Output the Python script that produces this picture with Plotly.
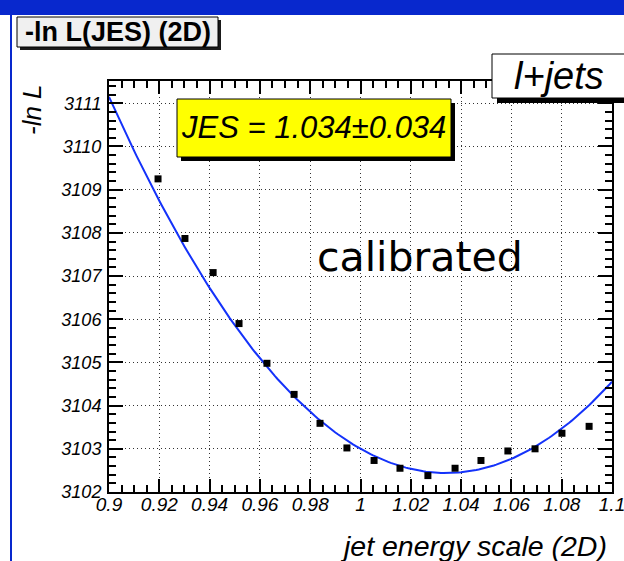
import numpy as np
import plotly.graph_objects as go

# Scan points: -ln L versus jet energy scale
jes_points = [0.9195, 0.9302, 0.9414, 0.9517, 0.9628, 0.9736, 0.9839, 0.9946,
              1.0054, 1.0157, 1.0268, 1.0376, 1.0479, 1.0586, 1.0694, 1.0801, 1.0909]
nll_points = [3109.25, 3107.87, 3107.08, 3105.90, 3104.98, 3104.26, 3103.59, 3103.02,
              3102.73, 3102.55, 3102.38, 3102.55, 3102.73, 3102.95, 3103.00, 3103.36, 3103.52]

# Parabolic fit result
fit_center = 1.034
fit_error = 0.034
fit_minimum = 3102.44
fit_curvature = 485.0

x_ticks = [0.9, 0.92, 0.94, 0.96, 0.98, 1.0, 1.02, 1.04, 1.06, 1.08, 1.1]
y_ticks = [3102, 3103, 3104, 3105, 3106, 3107, 3108, 3109, 3110, 3111]

x_range = [0.9, 1.1]
y_range = [3102, 3111.516]

# Plot frame in page pixels
FL, FR, FT, FB = 109, 612, 81, 492
FW, FH = FR - FL, FB - FT


def px_x(x):
    return (x - FL) / FW


def px_y(y):
    return (FB - y) / FH


fit_x = np.linspace(x_range[0], x_range[1], 201)
fit_y = fit_minimum + fit_curvature * (fit_x - fit_center) ** 2

fig = go.Figure()
fig.add_trace(go.Scatter(x=fit_x, y=fit_y, mode="lines",
                         line=dict(color="rgb(20,50,250)", width=2),
                         hoverinfo="skip", showlegend=False))
fig.add_trace(go.Scatter(x=jes_points, y=nll_points, mode="markers",
                         marker=dict(symbol="square", size=7, color="black"),
                         showlegend=False))

BLUE = "#0828CD"
shapes = []


def rect(x0, y0, x1, y1, fill, line_color=None, line_width=0, layer="above"):
    shapes.append(dict(type="rect", xref="paper", yref="paper",
                       x0=px_x(x0), x1=px_x(x1), y0=px_y(y1), y1=px_y(y0),
                       fillcolor=fill, layer=layer,
                       line=dict(color=line_color or fill, width=line_width)))


# page decoration: top banner and left rule
rect(-5, -5, 640, 15, BLUE, layer="below")
rect(10, 15, 12, 600, BLUE, layer="below")

# title pave
rect(20, 20, 221, 50, "#1a1a1a")
rect(17, 17, 218, 47, "#F0F0F0", "black", 1)
# JES result pave
rect(181, 103, 455, 161, "black")
rect(177, 99, 451, 157, "#FFFF00", "black", 1)
# channel pave
rect(497, 59, 660, 103, "black")
rect(492, 54, 660, 98, "white", "black", 1)

annotations = [
    dict(text="<b>-ln L(JES) (2D)</b>", x=px_x(117.5), y=px_y(32),
         font=dict(family="Liberation Sans", size=27, color="black")),
    dict(text=f"JES = {fit_center:.3f}\u00b1{fit_error:.3f}", x=px_x(313), y=px_y(128),
         font=dict(family="Liberation Sans", size=31, color="black", style="italic")),
    dict(text="l+jets", x=px_x(559), y=px_y(76),
         font=dict(family="Liberation Sans", size=38, color="black", style="italic")),
    dict(text="calibrated", x=px_x(420), y=px_y(257),
         font=dict(family="DejaVu Sans", size=41, color="black")),
    dict(text="-ln L", x=px_x(32), y=px_y(110), textangle=-90,
         font=dict(family="Liberation Sans", size=26, color="black", style="italic")),
    dict(text="jet energy scale (2D)", x=px_x(609), y=px_y(546), xanchor="right",
         font=dict(family="Liberation Sans", size=28.5, color="black", style="italic")),
]
for a in annotations:
    a.update(xref="paper", yref="paper", showarrow=False)
    a.setdefault("xanchor", "center")
    a.setdefault("yanchor", "middle")

axis_common = dict(
    showline=True, linecolor="black", linewidth=2, mirror="allticks",
    ticks="inside", tickcolor="black", tickwidth=1.5,
    showgrid=True, gridcolor="#333333", gridwidth=1, griddash="1px,3px",
    zeroline=False, automargin=False, ticklabeloverflow="allow",
)

fig.update_layout(
    width=624, height=561,
    margin=dict(l=FL, r=624 - FR, t=FT, b=561 - FB, autoexpand=False),
    paper_bgcolor="white", plot_bgcolor="white",
    shapes=shapes, annotations=annotations,
    xaxis=dict(range=x_range, tickvals=x_ticks, ticklen=13,
               tickfont=dict(family="Liberation Sans", size=19, color="black", style="italic"),
               ticklabelstandoff=-6,
               minor=dict(dtick=0.005, tick0=0.9, ticks="inside", ticklen=7,
                          tickcolor="black", tickwidth=1.5, showgrid=False),
               **axis_common),
    yaxis=dict(range=y_range, tickvals=y_ticks, ticklen=14,
               tickfont=dict(family="Liberation Sans", size=18, color="black", style="italic"),
               ticklabelstandoff=2,
               minor=dict(dtick=0.2, tick0=3102, ticks="inside", ticklen=7,
                          tickcolor="black", tickwidth=1.5, showgrid=False),
               **axis_common),
)

fig.write_html("out.html")
